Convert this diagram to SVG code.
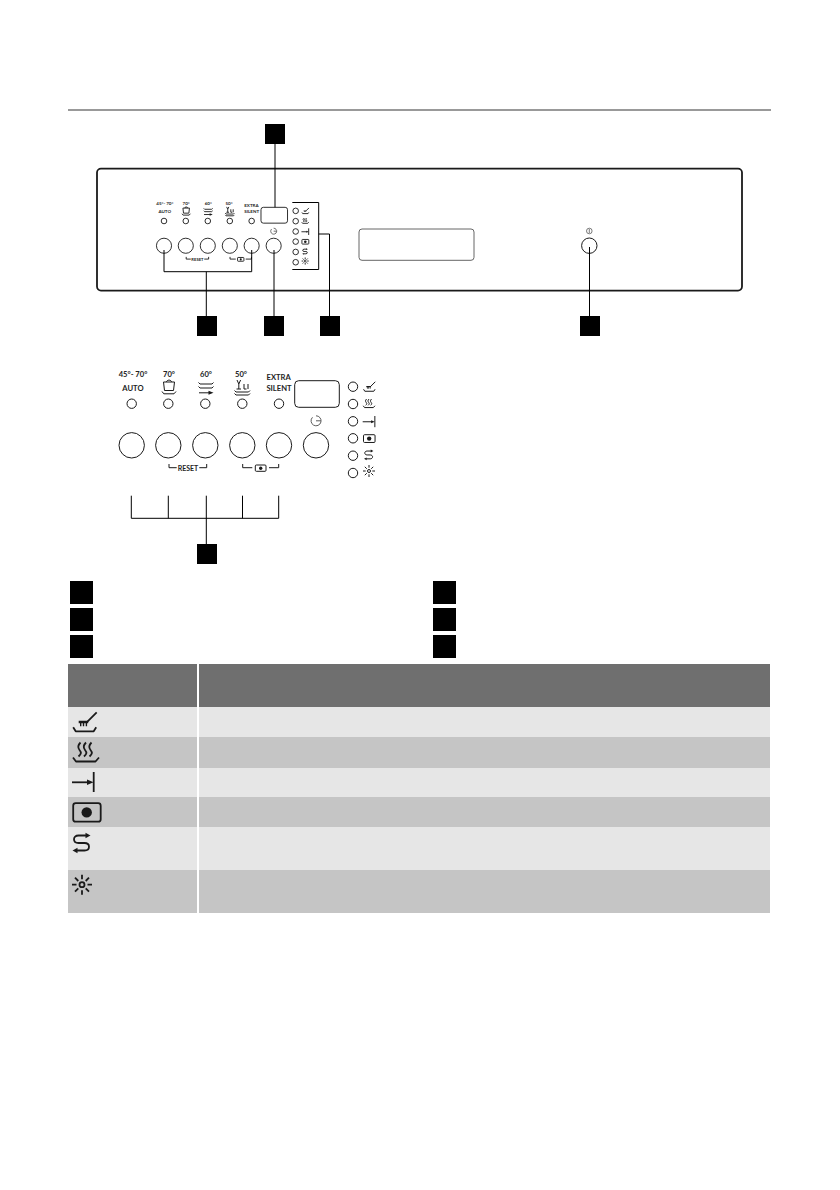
<svg xmlns="http://www.w3.org/2000/svg" xmlns:xlink="http://www.w3.org/1999/xlink" width="840" height="1190" viewBox="0 0 840 1190">
<style>
.s{fill:none;stroke:#1a1a1a;vector-effect:non-scaling-stroke;stroke-linecap:butt;stroke-linejoin:round}
.f{fill:#1a1a1a;stroke:none}
.c{fill:#fff;stroke:#1a1a1a;vector-effect:non-scaling-stroke}
.t{font-family:"Lato","Liberation Sans",sans-serif;font-weight:700;font-size:7.6px;fill:#222;text-anchor:middle}
.r{font-size:7px}
.tx{opacity:.99}
.k{fill:#000}
.l{fill:none;stroke:#000;stroke-width:1}
.h{fill:#6f6f6f}.a{fill:#e6e6e6}.b{fill:#c5c5c5}
</style>
<defs>
<g id="ic-brush">
<path class="s" d="M0.500 15.500L3 19.500H21L23.500 15.500"/>
<path class="s" d="M24 0.500L14.500 10"/>
<path class="f" d="M6 9H15.500V11.500H14.400V14.500H13V11.500H11.500V14.500H10.100V11.500H8.700V14.500H7.300V11.500H6Z"/>
</g>
<g id="ic-steam">
<path class="s" d="M0.500 15.500L3.500 19.500H23L26.500 15.500"/>
<path class="s" d="M8 0.500C5 3.500 5 5.500 7 8S9 11.500 6 14.500"/>
<path class="s" d="M13.500 0.500C10.500 3.500 10.500 5.500 12.500 8S14.500 11.500 11.500 14.500"/>
<path class="s" d="M19 0.500C16 3.500 16 5.500 18 8S20 11.500 17 14.500"/>
</g>
<g id="ic-arrow">
<path class="s" d="M0 10.300H17"/>
<path class="f" d="M15 7.500L21.500 10.300L15 13Z"/>
<path class="s" d="M21.700 0V20"/>
</g>
<g id="ic-rect">
<rect class="s" x="0.500" y="0.500" width="27.500" height="18.500" rx="2.500"/>
<circle class="f" cx="14" cy="9.700" r="5.200"/>
</g>
<g id="ic-s">
<path class="s" d="M15 2H6C0 2 0 9.500 6 9.500H12C18 9.500 18 17 12 17H4"/>
<path class="f" d="M13 -0.800L18 2L13 4.800Z"/>
<path class="f" d="M5 14.200L0 17L5 19.800Z"/>
</g>
<g id="ic-sun">
<circle class="s" cx="10" cy="10" r="2.500"/>
<path class="s" d="M10 0V4.500M10 15.500V20M0 10H4.500M15.500 10H20M3 3L6.300 6.300M13.700 13.700L17 17M17 3L13.700 6.300M6.300 13.700L3 17"/>
</g>
<g id="controls">
<circle class="c" cx="131.700" cy="403.700" r="4.700"/>
<circle class="c" cx="168.300" cy="403.700" r="4.700"/>
<circle class="c" cx="205.300" cy="403.700" r="4.700"/>
<circle class="c" cx="242.300" cy="403.700" r="4.700"/>
<circle class="c" cx="279" cy="403.700" r="4.700"/>
<circle class="c" cx="131.700" cy="445.300" r="12.700"/>
<circle class="c" cx="168.300" cy="445.300" r="12.700"/>
<circle class="c" cx="205.300" cy="445.300" r="12.700"/>
<circle class="c" cx="242.300" cy="445.300" r="12.700"/>
<circle class="c" cx="279" cy="445.300" r="12.700"/>
<circle class="c" cx="316" cy="445.300" r="12.700"/>
<rect class="s" x="294.700" y="380.700" width="44.600" height="26.600" rx="4"/>
<circle class="c" cx="353" cy="386.700" r="4.700"/>
<circle class="c" cx="353" cy="404" r="4.700"/>
<circle class="c" cx="353" cy="421.300" r="4.700"/>
<circle class="c" cx="353" cy="438.300" r="4.700"/>
<circle class="c" cx="353" cy="455.700" r="4.700"/>
<circle class="c" cx="353" cy="473" r="4.700"/>
<use xlink:href="#ic-brush" href="#ic-brush" transform="translate(363.300 381.500) scale(.5)"/>
<use xlink:href="#ic-steam" href="#ic-steam" transform="translate(363 398.800) scale(.45)"/>
<use xlink:href="#ic-arrow" href="#ic-arrow" transform="translate(362.700 416) scale(.56)"/>
<use xlink:href="#ic-rect" href="#ic-rect" transform="translate(363.300 434.500) scale(.42)"/>
<use xlink:href="#ic-s" href="#ic-s" transform="translate(364 450) scale(.52)"/>
<use xlink:href="#ic-sun" href="#ic-sun" transform="translate(363 465) scale(.6)"/>
<path class="s" d="M163.500 382H174.500L173.500 390.500H164.500ZM166.500 382C166.500 379.500 171.500 379.500 171.500 382M162 391.500L163.800 393.800H174L176 391.500"/>
<path class="s" d="M198.500 382.500L200 384H212L213.500 382.500M198.500 386.500L200 388H212L213.500 386.500M199 392.800H209"/>
<path class="f" d="M208.500 390.800L213.500 392.800L208.500 394.800Z"/>
<path class="s" d="M237 380L238.800 384L240.600 380M238.800 384V389M236.500 389H241M244 384V389H246.500M248 384V389M234.500 390.500L236 392H248.500L250 390.500M234.500 393.500L236 395H248.500L250 393.500"/>
<path class="s" d="M316 415.800A5 5 0 1 1 312.500 417.300M316 420.800H321" opacity=".7"/>
<path class="s" d="M169 464V467.700H176.700M199.300 467.700H206.700V464M242.700 464V467.700H252.300M269 467.700H278.700V464"/>
<rect class="s" x="255.300" y="465" width="10.700" height="6.300" rx="1"/>
<circle class="f" cx="260.700" cy="468.200" r="1.700"/>
</g>
</defs>

<rect id="background" width="840" height="1190" fill="#fff"/>
<path id="top-rule" d="M68 110H771" stroke="#999" stroke-width="2" fill="none"/>

<g id="overview-panel">
<rect x="97" y="168.600" width="645" height="122" rx="4" fill="#fff" stroke="#1a1a1a" stroke-width="1.800"/>
<rect x="359" y="229" width="115" height="31.300" rx="3" fill="none" stroke="#666" stroke-width="1"/>
<g id="overview-controls" transform="translate(85.640 -19.200) scale(.595)" stroke-width=".9">
<use xlink:href="#controls" href="#controls"/>
<g class="tx">
<text class="t" x="133" y="377">45°- 70°</text><text class="t" x="133" y="390.700">AUTO</text>
<text class="t" x="169" y="377">70°</text><text class="t" x="206" y="377">60°</text><text class="t" x="241" y="377">50°</text>
<text class="t" x="278.700" y="380.300">EXTRA</text><text class="t" x="279" y="391">SILENT</text>
<text class="t r" x="188" y="470.500">RESET</text>
</g>
</g>
<g id="overview-power">
<circle cx="589.300" cy="245.700" r="7.700" fill="#fff" stroke="#1a1a1a" stroke-width="1"/>
<circle cx="589.300" cy="231" r="2.800" fill="none" stroke="#444" stroke-width=".7"/>
<path d="M589.300 229V233" stroke="#444" stroke-width=".7"/>
</g>
<path id="led-bracket" class="l" d="M292.300 202.500H318.700V269.500H292.300"/>
</g>

<g id="detail-panel">
<g id="detail-controls" stroke-width="1">
<use xlink:href="#controls" href="#controls"/>
<g class="tx">
<text class="t" x="133" y="377">45°- 70°</text><text class="t" x="133" y="390.700">AUTO</text>
<text class="t" x="169" y="377">70°</text><text class="t" x="206" y="377">60°</text><text class="t" x="241" y="377">50°</text>
<text class="t" x="278.700" y="380.300">EXTRA</text><text class="t" x="279" y="391">SILENT</text>
<text class="t r" x="188" y="470.500">RESET</text>
</g>
</g>
</g>

<g id="connectors">
<path class="l" d="M275 144V207.300"/>
<path class="l" d="M164 250V271.700H251.700V250M206.300 271.700V316"/>
<path class="l" d="M274 250V316"/>
<path class="l" d="M318.700 234H329.500V316"/>
<path class="l" d="M589.500 247V316"/>
<path class="l" d="M131.300 495.700V518.300H278.700V495.700M168.300 495.700V518.300M206.300 495.700V544M242.500 495.700V518.300"/>
</g>

<g id="callout-display"><rect class="k" x="265" y="124" width="20" height="20"/></g>
<g id="callout-buttons"><rect class="k" x="197" y="316" width="20" height="20"/></g>
<g id="callout-delay"><rect class="k" x="264" y="316" width="20" height="20"/></g>
<g id="callout-indicators"><rect class="k" x="320" y="316" width="20" height="20"/></g>
<g id="callout-power"><rect class="k" x="580" y="316" width="20" height="20"/></g>
<g id="callout-detail"><rect class="k" x="197" y="544" width="20" height="20"/></g>

<g id="legend">
<rect class="k" x="70" y="581" width="23" height="23"/>
<rect class="k" x="70" y="608" width="23" height="23"/>
<rect class="k" x="70" y="635" width="23" height="23"/>
<rect class="k" x="433" y="581" width="23" height="23"/>
<rect class="k" x="433" y="608" width="23" height="23"/>
<rect class="k" x="433" y="635" width="23" height="23"/>
</g>

<g id="table">
<rect class="h" x="68" y="664" width="129" height="43"/><rect class="h" x="199" y="664" width="571" height="43"/>
<rect class="a" x="68" y="707" width="129" height="30"/><rect class="a" x="199" y="707" width="571" height="30"/>
<rect class="b" x="68" y="737" width="129" height="31"/><rect class="b" x="199" y="737" width="571" height="31"/>
<rect class="a" x="68" y="768" width="129" height="29"/><rect class="a" x="199" y="768" width="571" height="29"/>
<rect class="b" x="68" y="797" width="129" height="30"/><rect class="b" x="199" y="797" width="571" height="30"/>
<rect class="a" x="68" y="827" width="129" height="43"/><rect class="a" x="199" y="827" width="571" height="43"/>
<rect class="b" x="68" y="870" width="129" height="43"/><rect class="b" x="199" y="870" width="571" height="43"/>
<g id="table-icons" stroke-width="1.800">
<use xlink:href="#ic-brush" href="#ic-brush" transform="translate(72.700 711.800)"/>
<use xlink:href="#ic-steam" href="#ic-steam" transform="translate(72.500 742)"/>
<use xlink:href="#ic-arrow" href="#ic-arrow" transform="translate(72 772)"/>
<use xlink:href="#ic-rect" href="#ic-rect" transform="translate(72.700 802.700)"/>
<use xlink:href="#ic-s" href="#ic-s" transform="translate(72.500 833.500)"/>
<use xlink:href="#ic-sun" href="#ic-sun" transform="translate(72 874.700)"/>
</g>
</g>
</svg>
